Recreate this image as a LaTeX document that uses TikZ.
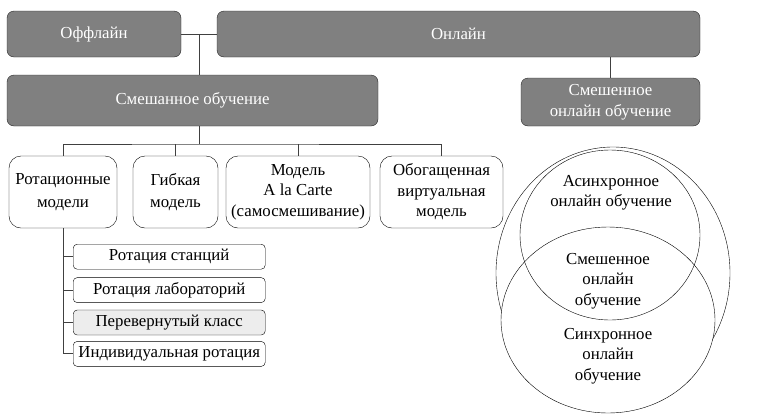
\documentclass[tikz,border=0pt]{standalone}
\usepackage{fontspec}
\setmainfont{Liberation Serif}
\usetikzlibrary{positioning, calc}
\def\DarkColor{black!50}
\def\FlipColor{black!7}

\begin{document}
\begin{tikzpicture}[
    x=1pt, y=1pt,
    every node/.style={align=center, font=\fontsize{16.8}{20.5}\selectfont},
    dark/.style={draw=black!85, fill=\DarkColor, text=white, rounded corners=7pt, inner sep=0pt},
    model/.style={draw, rounded corners=12pt, inner sep=0pt, minimum height=72pt},
    sub/.style={draw, rounded corners=4pt, inner sep=0pt, minimum width=192pt, minimum height=25pt},
    link/.style={draw=black!75, line width=0.9pt}
]
\useasboundingbox (0,0) rectangle (784,-416);

% Top level
\node[dark, minimum width=174pt, minimum height=46pt] (offline) at (94,-34) {Оффлайн};
\node[dark, minimum width=483pt, minimum height=46pt] (online) at (458.5,-34) {Онлайн};
\node[dark, minimum width=371pt, minimum height=51pt] (mixed) at (192.5,-100.5) {Смешанное обучение};
\node[dark, minimum width=179pt, minimum height=48pt] (mixedOnline) at (610.5,-102) {Смешенное\\онлайн обучение};

% Models
\node[model, minimum width=108pt] (rotation) at (63,-192) {Ротационные\\[2pt]модели};
\node[model, minimum width=85pt] (flexible) at (175.5,-192) {Гибкая\\[2pt]модель};
\node[model, minimum width=144pt] (carte) at (298,-192) {Модель\\A la Carte\\(самосмешивание)};
\node[model, minimum width=123pt] (enriched) at (441.5,-192) {Обогащенная\\виртуальная\\модель};

% Rotation models
\node[sub, anchor=north west] (station) at (73,-244) {Ротация станций};
\node[sub, below=8pt of station] (lab) {Ротация лабораторий};
\node[sub, fill=\FlipColor, below=7pt of lab] (flipped) {Перевернутый класс};
\node[sub, below=6pt of flipped] (individual) {Индивидуальная ротация};

% Circles
\draw[thin] (613,-273) ellipse [x radius=117pt, y radius=126pt];
\draw[thin, fill=white] (608,-320) ellipse [x radius=107pt, y radius=93pt];
\draw[thin] (610,-235) ellipse [x radius=90pt, y radius=85pt];
\node (async) at (611,-193) {Асинхронное\\онлайн обучение};
\node (blended) at (608,-281) {Смешенное\\онлайн\\обучение};
\node (sync) at (608,-356) {Синхронное\\онлайн\\обучение};

% Edges
\coordinate (fork) at ($(offline.east)!0.5!(online.west)$);
\coordinate (bus) at (fork |- 0,-144);
\draw[link] (offline) -- (online);
\draw[link] (fork) -- (fork |- mixed.north);
\draw[link] (fork |- mixed.south) -- (bus);
\draw[link] (rotation.north) |- (bus) -| (enriched.north);
\foreach \m in {flexible, carte} \draw[link] (\m.north) -- (\m.north |- bus);
\draw[link] (online.south -| mixedOnline) -- (mixedOnline.north);

% Rotation edges
\draw[link] (rotation.south) |- (individual.west);
\foreach \s in {station, lab, flipped} \draw[link] (rotation.south |- \s.west) -- (\s.west);
\end{tikzpicture}
\end{document}
